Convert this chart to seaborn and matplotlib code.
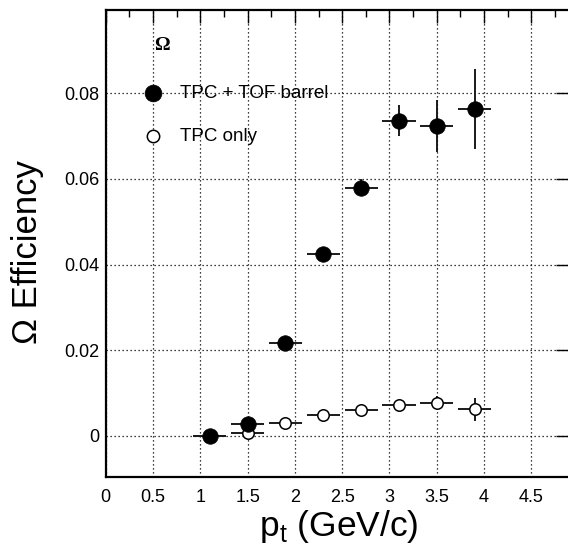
import numpy as np
import pandas as pd
import matplotlib
matplotlib.use("Agg")
import matplotlib.pyplot as plt
import seaborn as sns
from matplotlib.ticker import MultipleLocator, FuncFormatter

# ---- data ----
pt_bins = [1.1, 1.5, 1.9, 2.3, 2.7, 3.1, 3.5, 3.9]
pt_halfwidth = [0.175, 0.175, 0.175, 0.175, 0.175, 0.175, 0.175, 0.175]
eff_tof = [0.0000, 0.0027, 0.0218, 0.0424, 0.0580, 0.0736, 0.0724, 0.0763]
err_tof = [0.0008, 0.0010, 0.0010, 0.0012, 0.0020, 0.0036, 0.0060, 0.0094]
eff_tpc = [0.0000, 0.0006, 0.0031, 0.0050, 0.0061, 0.0073, 0.0078, 0.0062]
err_tpc = [0.0003, 0.0004, 0.0005, 0.0006, 0.0007, 0.0009, 0.0015, 0.0026]
label_tof = "TPC + TOF barrel"
label_tpc = "TPC only"
x_ticks = [0, 0.5, 1, 1.5, 2, 2.5, 3, 3.5, 4, 4.5]
y_ticks = [0, 0.02, 0.04, 0.06, 0.08]

df = pd.DataFrame({
    "pt": pt_bins * 2,
    "ex": pt_halfwidth * 2,
    "eff": eff_tof + eff_tpc,
    "err": err_tof + err_tpc,
    "sample": [label_tof] * len(pt_bins) + [label_tpc] * len(pt_bins),
})

sns.set_theme(style="white")
plt.rcParams["font.family"] = ["Liberation Sans", "DejaVu Sans"]
plt.rcParams["text.color"] = "black"
plt.rcParams["axes.labelcolor"] = "black"

W, H = 568, 548
fig = plt.figure(figsize=(W / 100, H / 100), dpi=100)
x_max = 4.92
ax_w_px = x_max * 94.6
ax = fig.add_axes([105.7 / W, 1 - 476.7 / H, ax_w_px / W, (476.7 - 9.7) / H])
ax.set_xlim(0, x_max)
ax.set_ylim(-0.0095, 0.0995)

err_kw = dict(fmt="none", ecolor="#1a1a1a", elinewidth=1.4, capsize=0, zorder=3)

tpc = df[df["sample"] == label_tpc]
tof = df[df["sample"] == label_tof]

ax.errorbar(tpc["pt"], tpc["eff"], xerr=tpc["ex"], yerr=tpc["err"], **err_kw)
sns.scatterplot(data=tpc, x="pt", y="eff", ax=ax, marker="o", s=68,
                facecolor="white", edgecolor="black", linewidth=1.1,
                zorder=4, label=label_tpc, legend=False)
ax.errorbar(tof["pt"], tof["eff"], xerr=tof["ex"], yerr=tof["err"], **err_kw)
sns.scatterplot(data=tof, x="pt", y="eff", ax=ax, marker="o", s=125,
                color="black", edgecolor="black", linewidth=0.5,
                zorder=5, label=label_tof, legend=False)

ax.set_xticks(x_ticks)
ax.set_yticks(y_ticks)
ax.xaxis.set_minor_locator(MultipleLocator(0.25))
ax.grid(True, which="major", color="black", linestyle=(0, (1, 2.2)), linewidth=0.9)
ax.set_axisbelow(True)

def fmt(v, pos):
    return f"{v:.2f}".rstrip("0").rstrip(".")
ax.xaxis.set_major_formatter(FuncFormatter(fmt))
ax.yaxis.set_major_formatter(FuncFormatter(fmt))

for sp in ["left", "bottom", "top", "right"]:
    ax.spines[sp].set_visible(True)
    ax.spines[sp].set_color("black")
    ax.spines[sp].set_linewidth(1.6)

ax.tick_params(axis="both", which="both", direction="in", colors="black",
               top=True, right=True, labelsize=13)
ax.tick_params(axis="x", which="major", length=9.5, width=1.0, pad=8.5)
ax.tick_params(axis="x", which="minor", length=5, width=1.0)
ax.tick_params(axis="y", which="major", length=10.5, width=1.0, pad=4.5)

ax.set_xlabel(r"p$_\mathregular{t}$ (GeV/c)", fontsize=25.5, color="black")
ax.xaxis.set_label_coords(0.501, -0.107)
ax.xaxis.label.set_va("center")
ax.set_ylabel("Ω Efficiency", fontsize=25, color="black", va="center", ha="center")
ax.yaxis.set_label_coords(-0.169, 0.481)

handles, labels = ax.get_legend_handles_labels()
order = [labels.index(label_tof), labels.index(label_tpc)]
leg = ax.legend([handles[i] for i in order], [labels[i] for i in order],
                loc="upper left", bbox_to_anchor=(0.0808, 0.8398),
                frameon=False, fontsize=13.5, handlelength=1.0,
                handletextpad=0.957, labelspacing=1.39, borderpad=0,
                borderaxespad=0, labelcolor="black", markerscale=1.08)
ax.text(0.120, 0.9226, "Ω", transform=ax.transAxes, ha="center", va="center",
        fontsize=14, fontweight="bold", color="black",
        family=["Liberation Serif", "DejaVu Serif"])

fig.savefig("out.png", dpi=100)
